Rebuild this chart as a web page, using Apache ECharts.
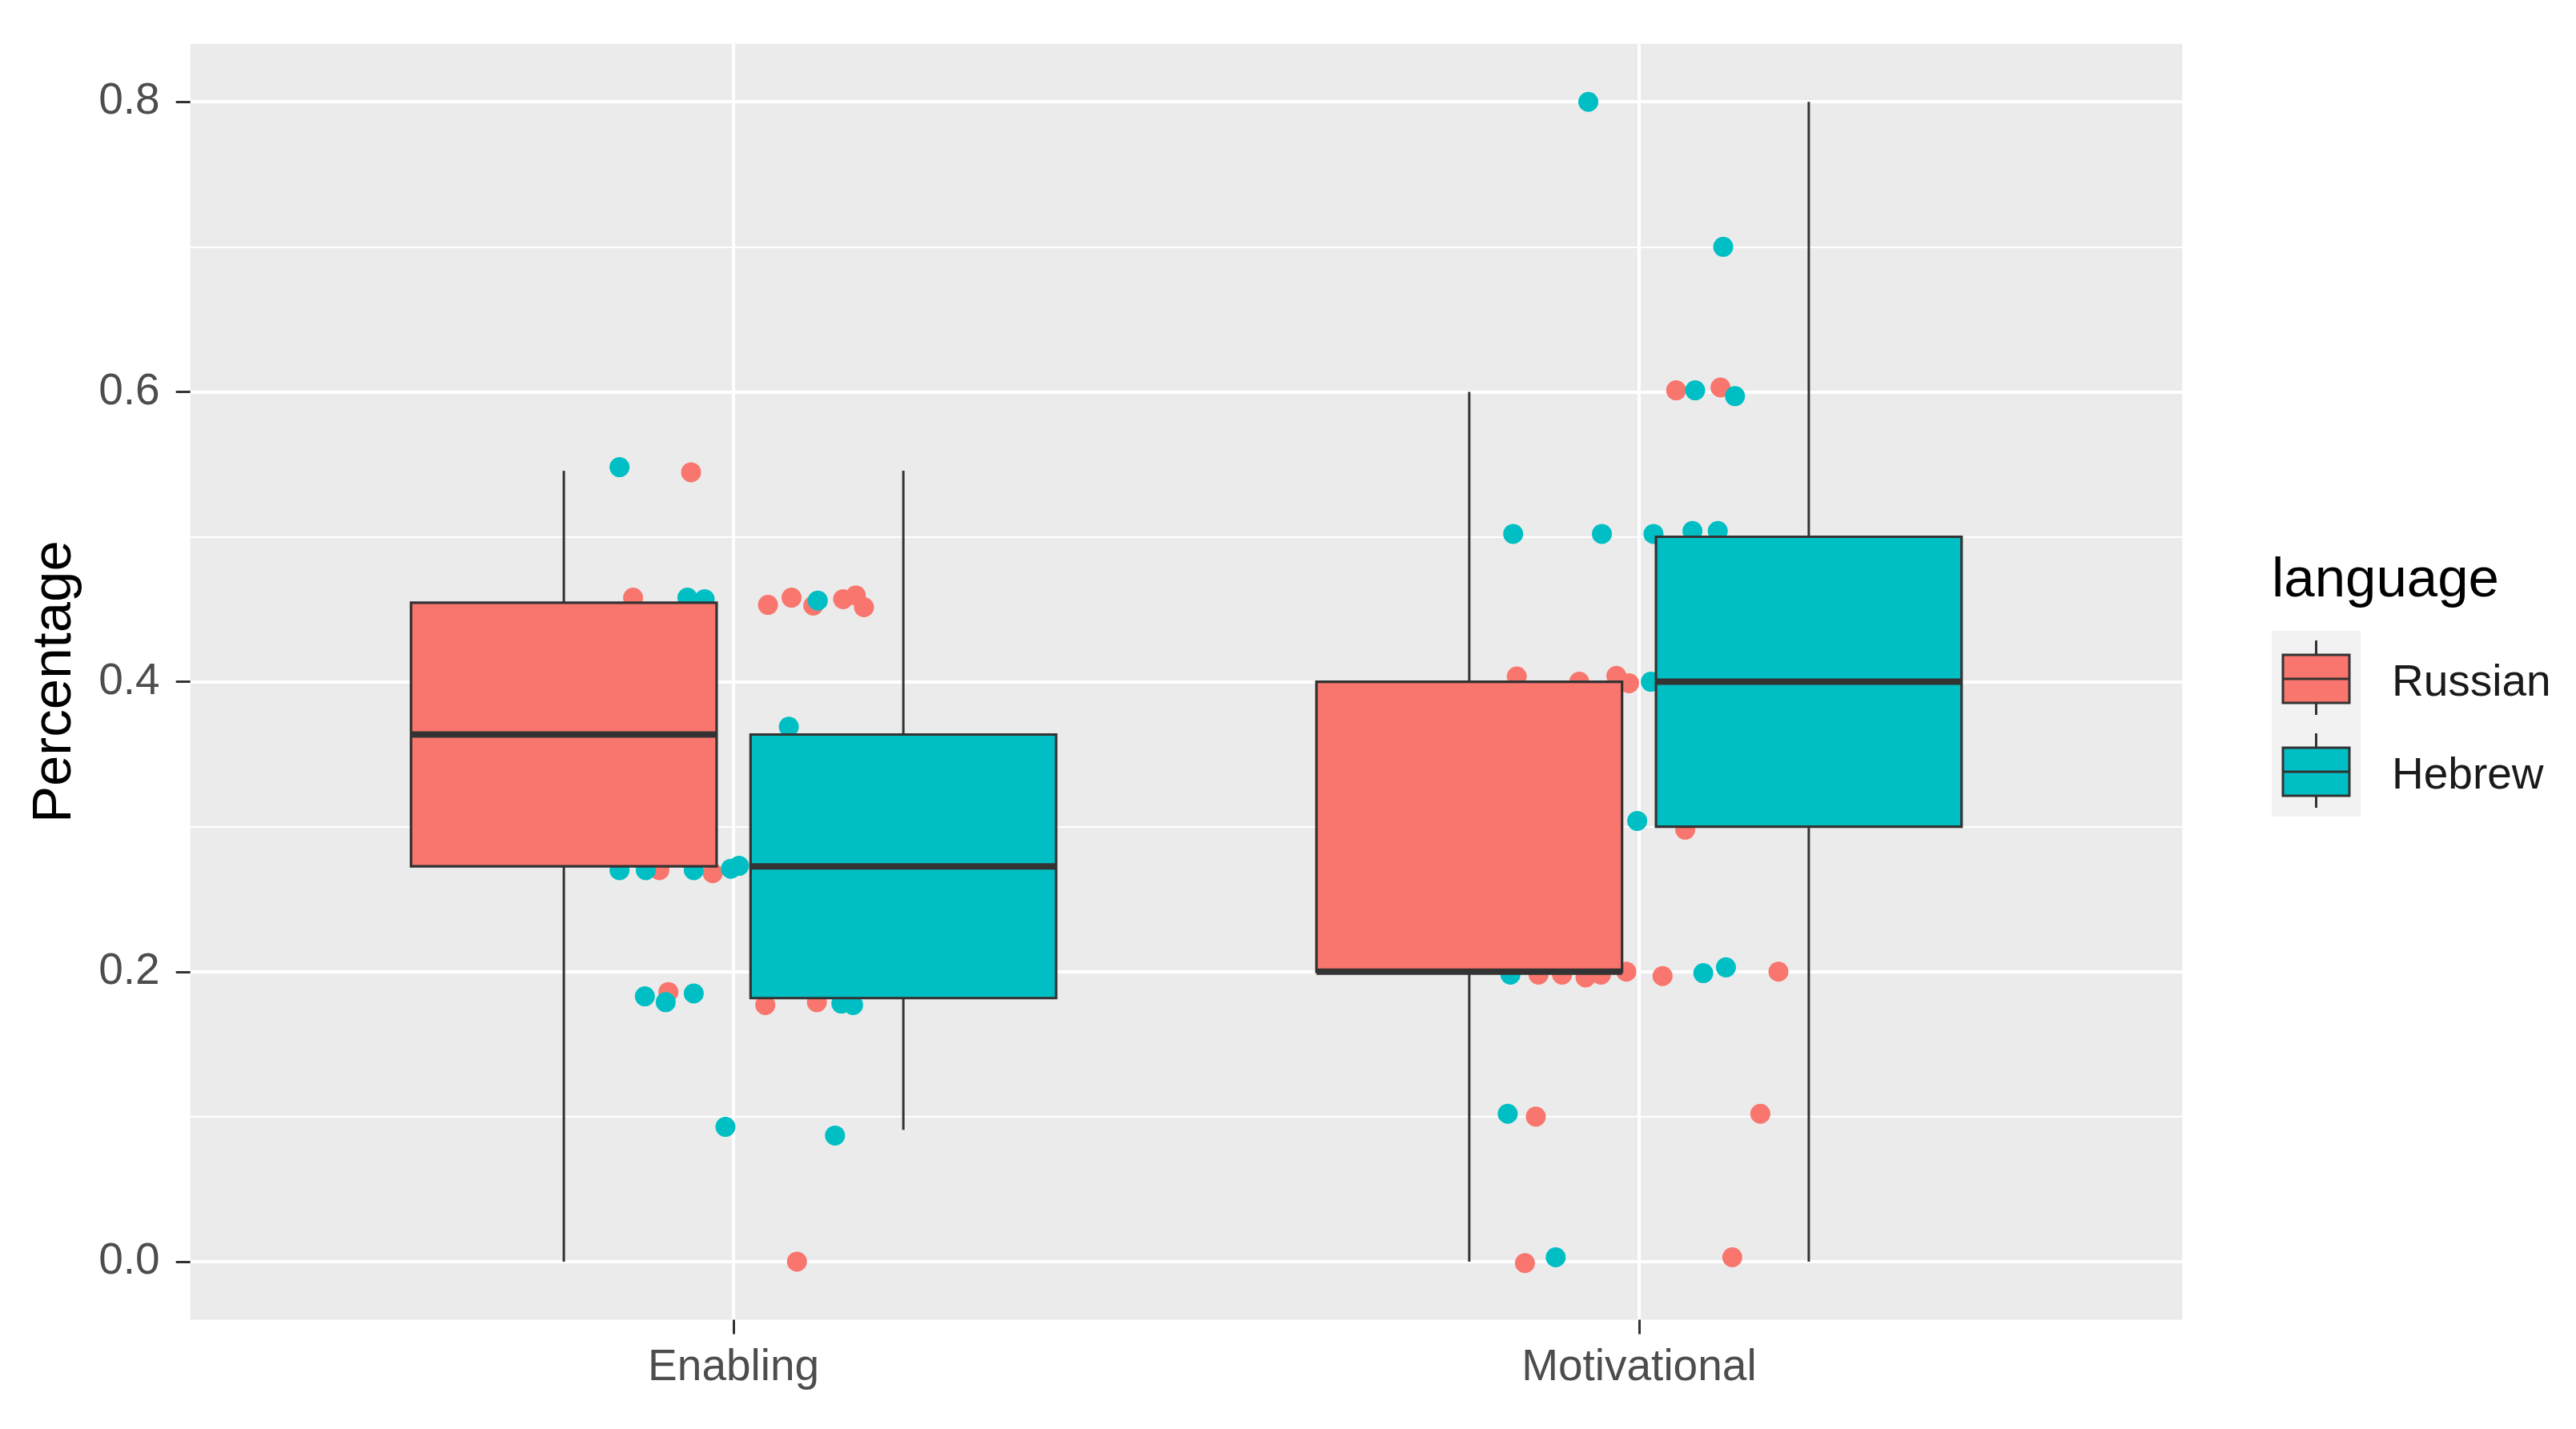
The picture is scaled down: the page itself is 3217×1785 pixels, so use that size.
<!DOCTYPE html>
<html>
<head>
<meta charset="utf-8">
<script src="https://cdn.jsdelivr.net/npm/echarts@6/dist/echarts.min.js"></script>
<style>
  html, body { margin: 0; padding: 0; background: #ffffff; }
  #chart { width: 3217px; height: 1785px; }
</style>
</head>
<body>
<div id="chart"></div>
<script>
// ---------------- DATA ----------------
const categories = ['Enabling', 'Motivational'];
const languages = ['Russian', 'Hebrew'];
const yTicks = [0, 0.2, 0.4, 0.6, 0.8];
const yMinorTicks = [0.1, 0.3, 0.5, 0.7];

// box statistics per category: [min, q1, median, q3, max]
const russianBox = [
  [0, 0.2727, 0.3636, 0.4545, 0.5455],
  [0, 0.2, 0.2, 0.4, 0.6]
];
const hebrewBox = [
  [0.0909, 0.1818, 0.2727, 0.3636, 0.5455],
  [0, 0.3, 0.4, 0.5, 0.8]
];

// jittered observations: [jittered category position, value]
const russianPoints = [
  [0.953, 0.5445], [0.889, 0.458], [1.038, 0.453], [1.064, 0.458], [1.088, 0.4525],
  [1.121, 0.457], [1.135, 0.4595], [1.144, 0.4514],
  [0.918, 0.270], [0.977, 0.268], [0.928, 0.186], [1.035, 0.177], [1.092, 0.179], [1.070, 0.0],
  [2.041, 0.601], [2.090, 0.603], [1.865, 0.4036], [1.934, 0.400], [1.975, 0.404], [1.989, 0.399],
  [2.051, 0.298],
  [1.889, 0.198], [1.915, 0.198], [1.941, 0.196], [1.958, 0.198], [1.986, 0.200], [2.026, 0.197],
  [2.154, 0.200],
  [1.886, 0.100], [2.134, 0.102], [1.874, -0.001], [2.103, 0.003]
];
const hebrewPoints = [
  [0.874, 0.548], [0.949, 0.458], [0.968, 0.457], [1.093, 0.456], [1.061, 0.369],
  [0.874, 0.270], [0.903, 0.270], [0.956, 0.270], [0.997, 0.271], [1.006, 0.273],
  [0.902, 0.183], [0.925, 0.179], [0.956, 0.185], [1.119, 0.178], [1.132, 0.177],
  [0.991, 0.093], [1.112, 0.087],
  [1.944, 0.800], [2.093, 0.700], [2.062, 0.601], [2.106, 0.597],
  [1.861, 0.502], [1.959, 0.502], [2.016, 0.502], [2.059, 0.504], [2.087, 0.504],
  [2.013, 0.400], [1.998, 0.304],
  [1.858, 0.198], [2.071, 0.199], [2.096, 0.203],
  [1.855, 0.102], [1.908, 0.003]
];

// ---------------- STYLE ----------------
const COLORS = ['#F8766D', '#00BFC4'];
const DODGE = [-0.1875, 0.1875];
const BOX_W = 0.3375;
const FONT = "'Liberation Sans', Arial, sans-serif";
const LINE = '#333333';

function boxRenderer(offset, color) {
  return function (params, api) {
    const x = api.value(0) + offset;
    const pMin = api.coord([x, api.value(1)]);
    const pQ1 = api.coord([x, api.value(2)]);
    const pMed = api.coord([x, api.value(3)]);
    const pQ3 = api.coord([x, api.value(4)]);
    const pMax = api.coord([x, api.value(5)]);
    const half = api.size([BOX_W, 0])[0] / 2;
    const cx = pMed[0];
    return {
      type: 'group',
      children: [
        { type: 'line', shape: { x1: cx, y1: pQ3[1], x2: cx, y2: pMax[1] },
          style: { stroke: LINE, lineWidth: 3 } },
        { type: 'line', shape: { x1: cx, y1: pQ1[1], x2: cx, y2: pMin[1] },
          style: { stroke: LINE, lineWidth: 3 } },
        { type: 'rect', shape: { x: cx - half, y: pQ3[1], width: 2 * half, height: pQ1[1] - pQ3[1] },
          style: { fill: color, stroke: LINE, lineWidth: 3.2 } },
        { type: 'line', shape: { x1: cx - half, y1: pMed[1], x2: cx + half, y2: pMed[1] },
          style: { stroke: LINE, lineWidth: 8 } }
      ]
    };
  };
}

const gridLines = []
  .concat(yTicks.map(v => ({ yAxis: v, lineStyle: { width: 4 } })))
  .concat(yMinorTicks.map(v => ({ yAxis: v, lineStyle: { width: 2 } })))
  .concat(categories.map((c, i) => ({ xAxis: i + 1, lineStyle: { width: 4 } })));

// legend drawn with graphic elements
const legendX = 2837, keyW = 111, keyH = 116, keyTop = 788;
const legendGraphics = [
  { type: 'text', left: legendX, top: 726 - 35, silent: true,
    style: { text: 'language', font: "69px " + FONT, fill: '#000000' } }
];
languages.forEach((lang, i) => {
  const top = keyTop + i * keyH;
  const cx = legendX + keyW / 2;
  legendGraphics.push(
    { type: 'rect', silent: true, shape: { x: legendX, y: top, width: keyW, height: keyH },
      style: { fill: '#F2F2F2' } },
    { type: 'line', silent: true, shape: { x1: cx, y1: top + 12, x2: cx, y2: top + 105 },
      style: { stroke: LINE, lineWidth: 3 } },
    { type: 'rect', silent: true, shape: { x: legendX + 14, y: top + 30, width: keyW - 28, height: 60 },
      style: { fill: COLORS[i], stroke: LINE, lineWidth: 3 } },
    { type: 'line', silent: true, shape: { x1: legendX + 14, y1: top + 60, x2: legendX + keyW - 14, y2: top + 60 },
      style: { stroke: LINE, lineWidth: 3 } },
    { type: 'text', silent: true, x: 2987, y: top + 66,
      style: { text: lang, font: "55px " + FONT, fill: '#1a1a1a', textVerticalAlign: 'middle', verticalAlign: 'middle' } }
  );
});

const chart = echarts.init(document.getElementById('chart'), null, { renderer: 'canvas' });
chart.setOption({
  animation: false,
  backgroundColor: '#ffffff',
  grid: {
    left: 237.7, right: 491.7, top: 54.8, bottom: 136.6,
    show: true, backgroundColor: '#EBEBEB', borderWidth: 0
  },
  xAxis: {
    type: 'value', min: 0.4, max: 2.6, position: 'bottom',
    axisLine: { show: false, onZero: false },
    splitLine: { show: false },
    axisTick: { show: true, customValues: [1, 2], length: 18, lineStyle: { color: LINE, width: 3 } },
    axisLabel: {
      customValues: [1, 2], margin: 33,
      formatter: v => categories[Math.round(v) - 1] || '',
      color: '#4D4D4D', fontSize: 55, fontFamily: FONT
    }
  },
  yAxis: {
    type: 'value', min: -0.04, max: 0.84, position: 'left',
    name: 'Percentage', nameLocation: 'middle', nameRotate: 90, nameGap: 134,
    nameTextStyle: { color: '#000000', fontSize: 69, fontFamily: FONT },
    axisLine: { show: false, onZero: false },
    splitLine: { show: false },
    axisTick: { show: true, customValues: yTicks, length: 18, lineStyle: { color: LINE, width: 3 } },
    axisLabel: {
      customValues: yTicks, margin: 38,
      formatter: v => Number(v).toFixed(1),
      color: '#4D4D4D', fontSize: 55, fontFamily: FONT
    }
  },
  graphic: legendGraphics,
  series: [
    {
      type: 'line', data: [], z: 0, zlevel: 0, silent: true,
      markLine: {
        z: 0,
        silent: true, symbol: ['none', 'none'], animation: false,
        label: { show: false },
        lineStyle: { color: '#ffffff', type: 'solid' },
        emphasis: { disabled: true },
        data: gridLines
      }
    },
    {
      name: 'Russian', type: 'scatter', z: 2, data: russianPoints, symbolSize: 25,
      itemStyle: { color: COLORS[0], opacity: 1 }, silent: true
    },
    {
      name: 'Hebrew', type: 'scatter', z: 2, data: hebrewPoints, symbolSize: 25,
      itemStyle: { color: COLORS[1], opacity: 1 }, silent: true
    },
    {
      name: 'Russian box', type: 'custom', z: 3, silent: true,
      renderItem: boxRenderer(DODGE[0], COLORS[0]),
      encode: { x: 0, y: [1, 2, 3, 4, 5] },
      data: russianBox.map((s, i) => [i + 1].concat(s))
    },
    {
      name: 'Hebrew box', type: 'custom', z: 3, silent: true,
      renderItem: boxRenderer(DODGE[1], COLORS[1]),
      encode: { x: 0, y: [1, 2, 3, 4, 5] },
      data: hebrewBox.map((s, i) => [i + 1].concat(s))
    }
  ]
});
</script>
</body>
</html>
